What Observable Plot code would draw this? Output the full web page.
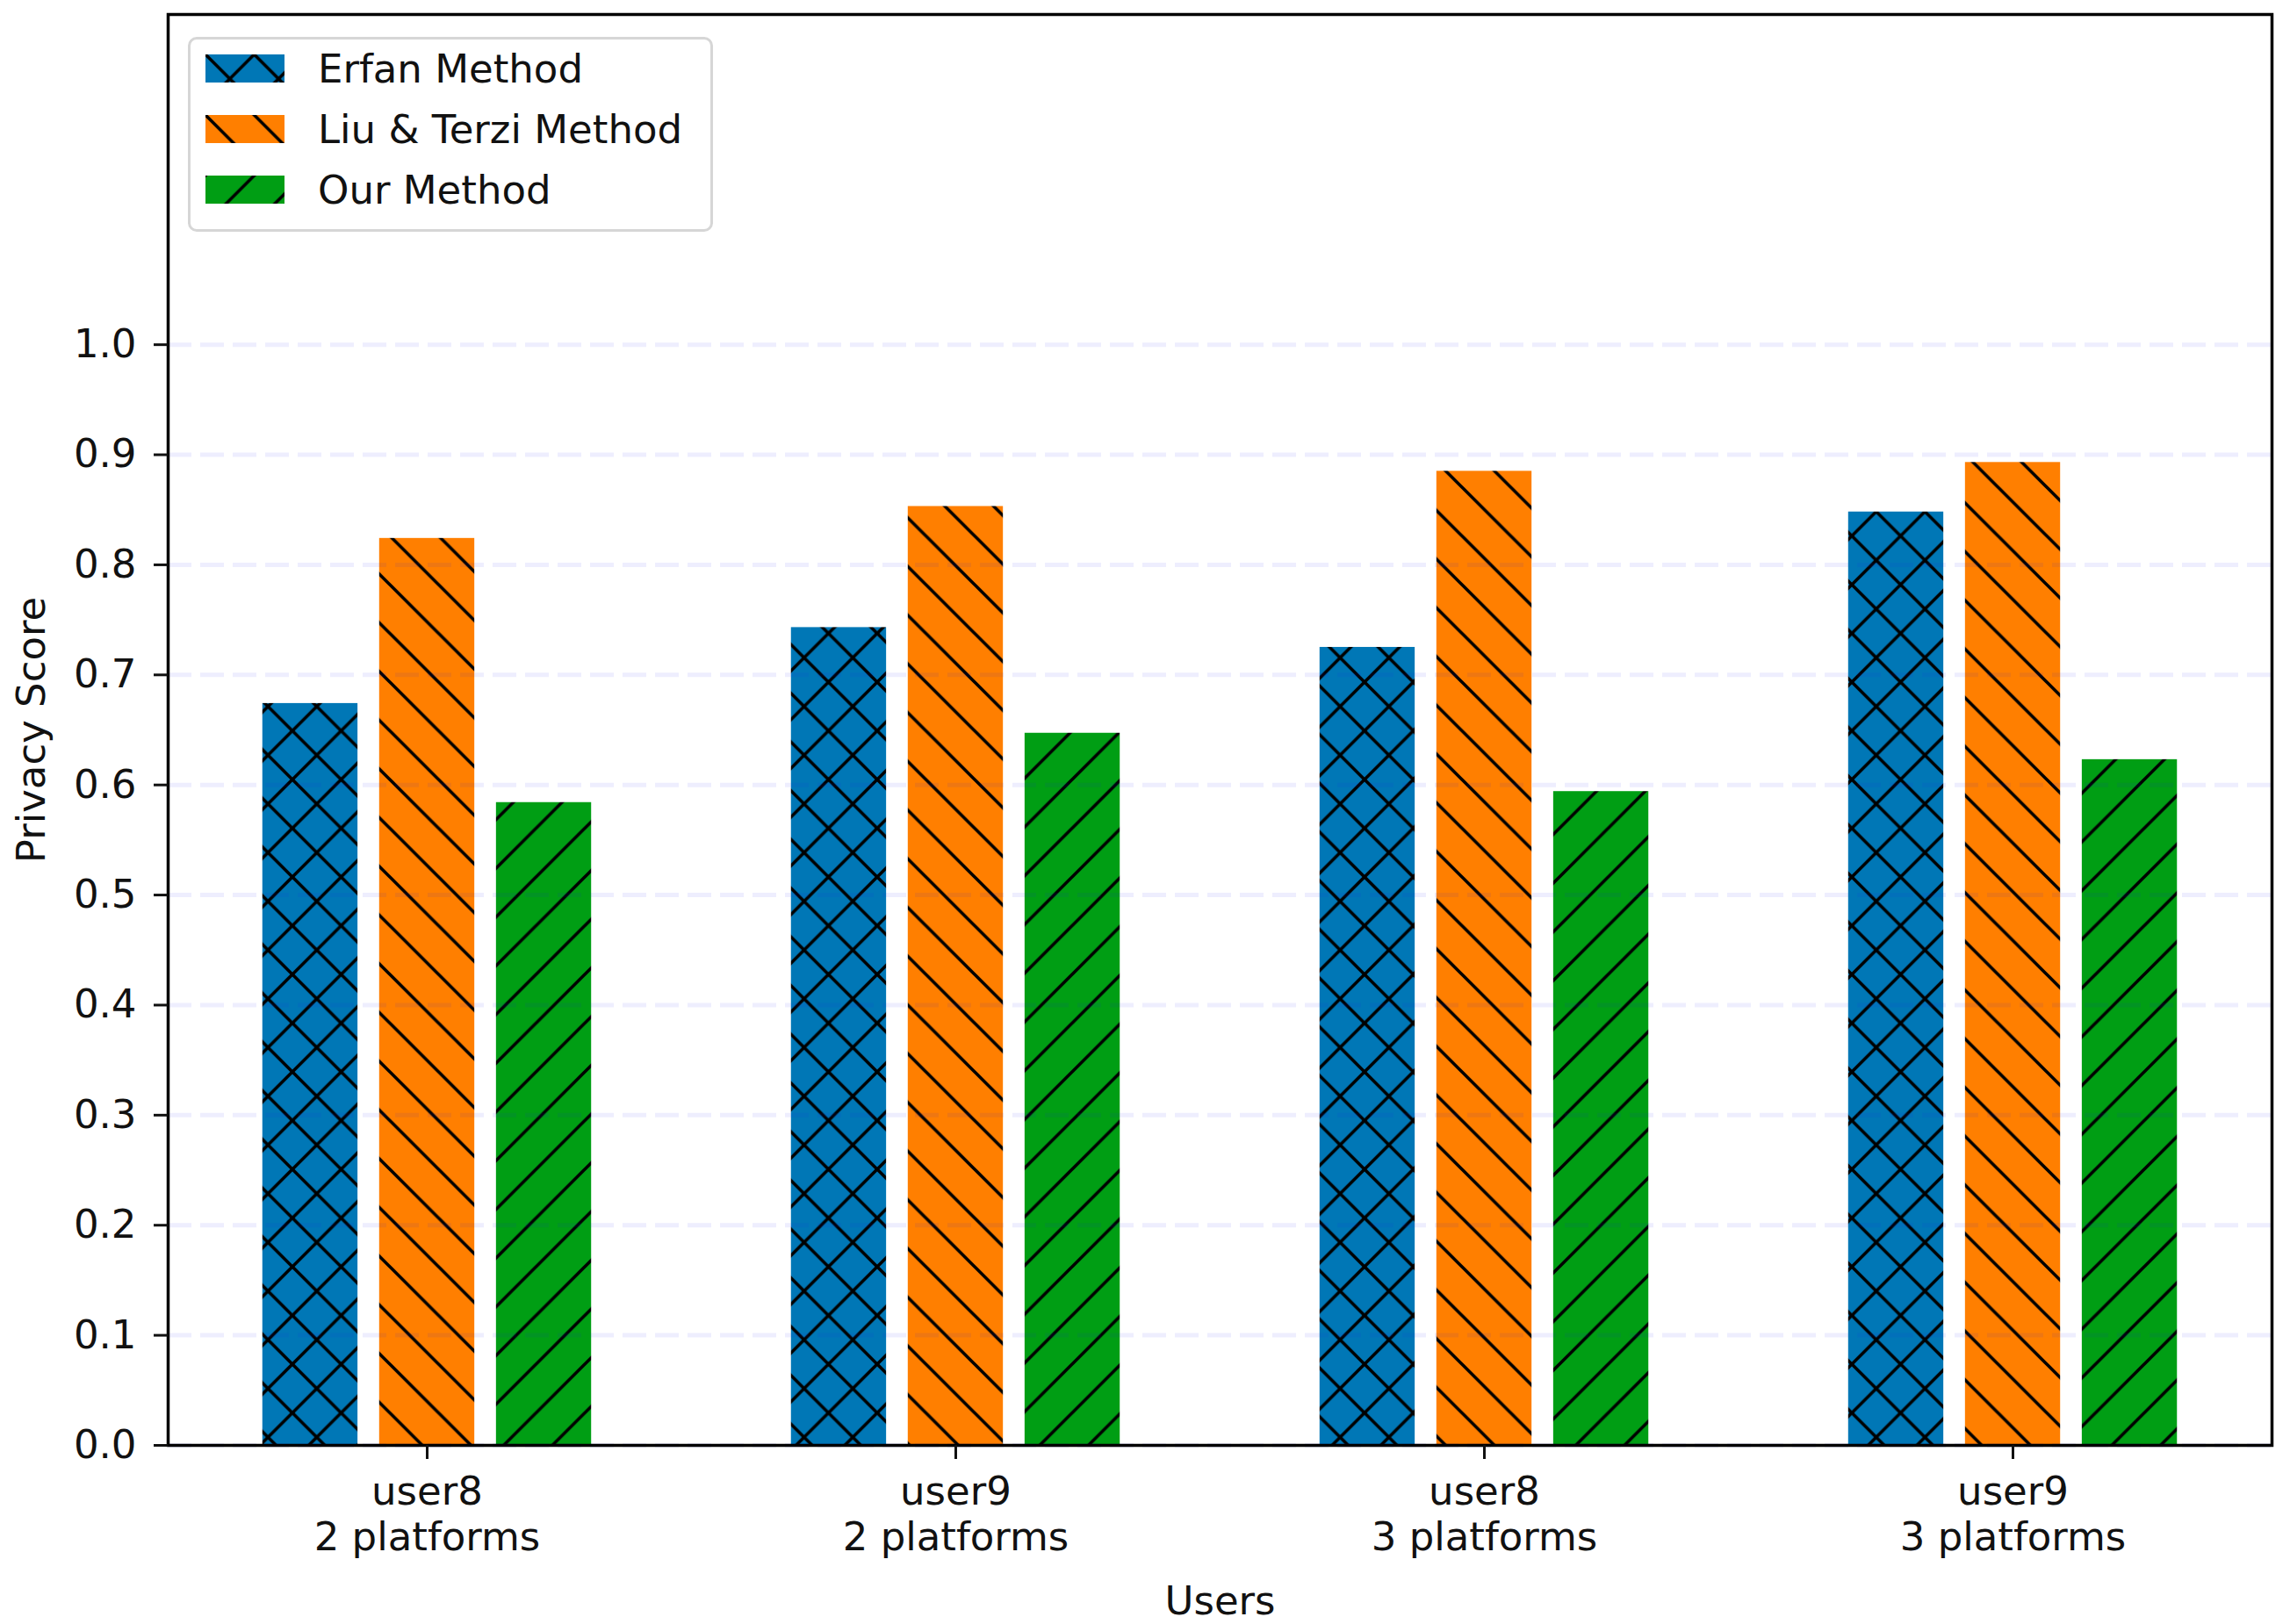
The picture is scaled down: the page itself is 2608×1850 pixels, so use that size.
<!DOCTYPE html>
<html>
<head>
<meta charset="utf-8">
<script src="https://cdn.jsdelivr.net/npm/d3@7"></script>
<script src="https://cdn.jsdelivr.net/npm/@observablehq/plot@0.6"></script>
<style>
  html, body { margin: 0; padding: 0; background: #fff; }
  #wrap { position: relative; width: 2608px; height: 1850px; font-family: "DejaVu Sans", sans-serif; }
  #legend {
    position: absolute; left: 214px; top: 42px; width: 598px; height: 222px;
    border: 3px solid #d6d6d6; border-radius: 10px; background: rgba(255,255,255,0.85);
    box-sizing: border-box;
  }
  .row { position: absolute; left: 17px; height: 40px; display: flex; align-items: center; }
  .row svg { display: block; }
  .row span { margin-left: 38px; font-size: 45px; color: #111; font-family: "DejaVu Sans", sans-serif; white-space: nowrap; }
</style>
</head>
<body>
<div id="wrap">
  <svg width="0" height="0" style="position:absolute" id="defs"></svg>
  <div id="chart"></div>
  <div id="legend"></div>
</div>
<script>
// ---- data ----
const groups = ["user8\n2 platforms", "user9\n2 platforms", "user8\n3 platforms", "user9\n3 platforms"];
const series = ["Erfan Method", "Liu & Terzi Method", "Our Method"];
const erfan = [0.674, 0.743, 0.725, 0.848];
const liuTerzi = [0.824, 0.853, 0.885, 0.893];
const ours = [0.584, 0.647, 0.594, 0.623];
const yTicks = [0.0, 0.1, 0.2, 0.3, 0.4, 0.5, 0.6, 0.7, 0.8, 0.9, 1.0];

// ---- styles ----
const colors = ["#0077b6", "#ff7f00", "#009e14"];
const hatchKinds = ["x", "\\", "/"];
const offsets = [-0.221, 0, 0.221];
const barWidth = 0.18;

const P = 55.5;
const q = P / 4;
const pathFor = {
  "\\": `M${-q},${3*q}L${q},${5*q}M0,0L${P},${P}M${3*q},${-q}L${5*q},${q}`,
  "/": `M0,${P}L${P},0M${-q},${q}L${q},${-q}M${3*q},${5*q}L${5*q},${3*q}`
};
pathFor["x"] = pathFor["\\"] + pathFor["/"];

const defs = d3.select("#defs").append("defs");
series.forEach((s, i) => {
  const pat = defs.append("pattern")
    .attr("id", "hatch" + i)
    .attr("patternUnits", "userSpaceOnUse")
    .attr("width", P).attr("height", P);
  pat.append("rect").attr("width", P).attr("height", P).attr("fill", colors[i]);
  pat.append("path").attr("d", pathFor[hatchKinds[i]])
    .attr("stroke", "#000").attr("stroke-width", 3.6).attr("fill", "none");
});

const values = [erfan, liuTerzi, ours];
const table = [];
series.forEach((s, si) => {
  groups.forEach((g, gi) => {
    table.push({series: s, si, gi, value: values[si][gi]});
  });
});

const chart = Plot.plot({
  width: 2608,
  height: 1850,
  marginLeft: 191,
  marginRight: 21,
  marginTop: 16,
  marginBottom: 204,
  style: {fontFamily: "DejaVu Sans, sans-serif", color: "#111", background: "#fff"},
  x: {type: "linear", domain: [-0.49, 3.49]},
  y: {domain: [0, 1.3]},
  color: {type: "identity"},
  marks: [
    Plot.rect(table, {
      x1: d => d.gi + offsets[d.si] - barWidth / 2,
      x2: d => d.gi + offsets[d.si] + barWidth / 2,
      y1: 0,
      y2: "value",
      fill: d => `url(#hatch${d.si})`
    }),
    Plot.ruleY(yTicks, {stroke: "#2020f0", strokeOpacity: 0.075, strokeWidth: 5, strokeDasharray: "27,10"}),
    Plot.frame({stroke: "#000", strokeWidth: 3.5}),
    Plot.axisY({
      ticks: yTicks, tickFormat: d3.format(".1f"), tickSize: 16, tickPadding: 20,
      fontSize: 45, strokeWidth: 3, label: "Privacy Score", labelAnchor: "center",
      labelArrow: "none", labelOffset: 172
    }),
    Plot.axisX({
      ticks: [0, 1, 2, 3], tickFormat: i => groups[i], tickSize: 16, tickPadding: 14,
      fontSize: 45, lineHeight: 1.16, strokeWidth: 3, label: "Users", labelAnchor: "center",
      labelArrow: "none", labelOffset: 192
    })
  ]
});
document.getElementById("chart").appendChild(chart);

// ---- legend ----
const legend = d3.select("#legend");
series.forEach((s, i) => {
  const row = legend.append("div").attr("class", "row").style("top", (13 + i * 69) + "px");
  const sv = row.append("svg").attr("width", 90).attr("height", 32);
  sv.append("rect").attr("width", 90).attr("height", 32).attr("fill", `url(#hatch${i})`);
  row.append("span").text(s);
});
</script>
</body>
</html>
